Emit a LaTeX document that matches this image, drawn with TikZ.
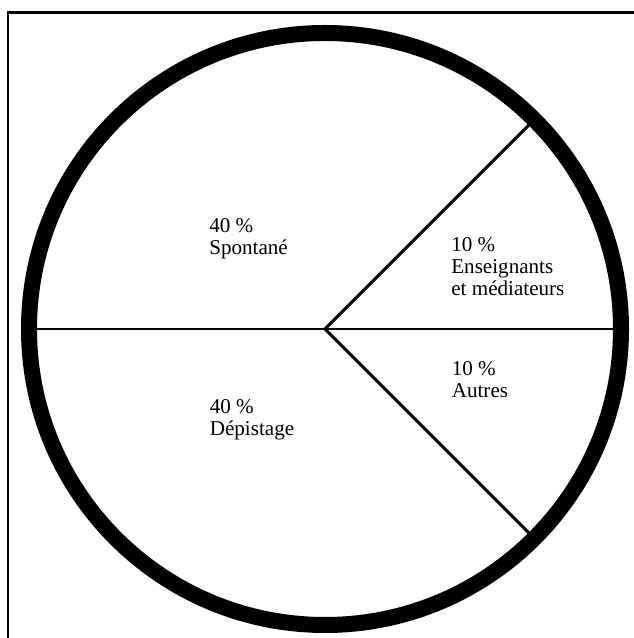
\documentclass[tikz,border=0pt]{standalone}
\usepackage{fontspec}
\setmainfont{Liberation Serif}
\usetikzlibrary{calc}
\tikzset{
  part/.style={anchor=north west, inner sep=0pt, align=left, font=\fontsize{12}{12.5}\selectfont},
  spoke/.style={line width=1.7pt}
}
\begin{document}
\begin{tikzpicture}
        \useasboundingbox (0,0) rectangle (12.68,12.76) ;
        \draw[line width=1.4pt] (0.16,0) -- (0.16,12.51) -- (12.68,12.51) ;
        \coordinate (centre) at (6.5,6.18) ;
        \coordinate (gauche) at ($(centre)+(180:5.85)$) ;
        \coordinate (droite) at ($(centre)+(0:5.85)$) ;
        \coordinate (haut) at ($(centre)+(45:5.85)$) ;
        \coordinate (bas) at ($(centre)+(-45:5.85)$) ;
            \draw[spoke] (gauche) -- (droite) ;
            \draw[spoke] (centre) -- (haut) ;
            \draw[spoke] (centre) -- (bas) ;
        \draw[line width=0.32cm] (centre) circle (5.92) ;
            \node[part] (spontane) at (4.18,8.40) {40 \%\\Spontané} ;
            \node[part] (enseignants) at (9.02,8.01) {10 \%\\Enseignants\\et médiateurs} ;
            \node[part] (autres) at (9.03,5.53) {10 \%\\Autres} ;
            \node[part] (depistage) at (4.19,4.77) {40 \%\\Dépistage} ;
        \end{tikzpicture}
\end{document}
